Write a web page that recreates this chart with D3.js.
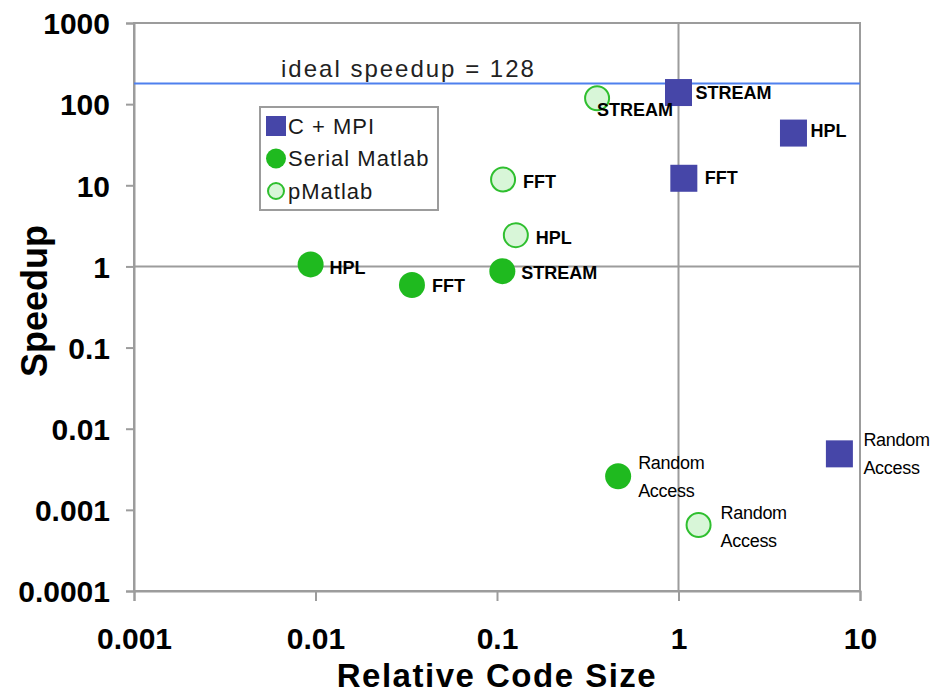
<!DOCTYPE html>
<html>
<head>
<meta charset="utf-8">
<script src="https://cdn.jsdelivr.net/npm/d3@7"></script>
<style>
  body { margin: 0; background: #fff; }
  svg { display: block; font-family: "Liberation Sans", Arial, sans-serif; }
</style>
</head>
<body>
<div id="chart"></div>
<script>
// Data
var benchmarks = ["STREAM", "HPL", "FFT", "Random Access"];

var cmpiSize = [1.0, 4.3, 1.07, 7.7];
var cmpiSpeedup = [139, 44, 12.2, 0.0049];

var serialSize = [0.107, 0.0094, 0.034, 0.465];
var serialSpeedup = [0.875, 1.06, 0.59, 0.0026];

var pmatlabSize = [0.356, 0.127, 0.108, 1.29];
var pmatlabSpeedup = [118, 2.43, 11.8, 0.00065];

var xTicks = [0.001, 0.01, 0.1, 1, 10];
var xTickLabels = ["0.001", "0.01", "0.1", "1", "10"];
var yTicks = [0.0001, 0.001, 0.01, 0.1, 1, 10, 100, 1000];
var yTickLabels = ["0.0001", "0.001", "0.01", "0.1", "1", "10", "100", "1000"];

var idealValue = 180;
var idealLabel = "ideal speedup = 128";

var seriesNames = ["C + MPI", "Serial Matlab", "pMatlab"];

// label placement (offsets from the marker centre)
var labelOffsets = {
  "C + MPI": { "STREAM": [17, 0], "HPL": [17, -2], "FFT": [21, 0], "Random Access": [24, -14] },
  "Serial Matlab": { "STREAM": [19, 2], "HPL": [19, 4], "FFT": [20, 1], "Random Access": [20, -13] },
  "pMatlab": { "STREAM": [0, 12], "HPL": [20, 3], "FFT": [20, 3], "Random Access": [22, -12] }
};

var width = 935, height = 694;
var gray = "#9c9c9c";

var svg = d3.select("#chart").append("svg")
  .attr("width", width)
  .attr("height", height);

var x = d3.scaleLog().domain([0.001, 10]).range([134, 860]);
var y = d3.scaleLog().domain([0.0001, 1000]).range([591, 23]);

// frame
svg.append("rect")
  .attr("x", x(0.001)).attr("y", y(1000))
  .attr("width", x(10) - x(0.001))
  .attr("height", y(0.0001) - y(1000))
  .attr("fill", "none")
  .attr("stroke", gray)
  .attr("stroke-width", 2);

// cross lines at 1
svg.append("line")
  .attr("x1", x(0.001)).attr("x2", x(10))
  .attr("y1", y(1)).attr("y2", y(1))
  .attr("stroke", gray).attr("stroke-width", 2);
svg.append("line")
  .attr("x1", x(1)).attr("x2", x(1))
  .attr("y1", y(1000)).attr("y2", y(0.0001))
  .attr("stroke", gray).attr("stroke-width", 2);

// axes
var yAxis = d3.axisLeft(y)
  .tickValues(yTicks)
  .tickSize(8)
  .tickPadding(16)
  .tickFormat(function(d, i) { return yTickLabels[i]; });

var xAxis = d3.axisBottom(x)
  .tickValues(xTicks)
  .tickSize(10)
  .tickPadding(27)
  .tickFormat(function(d, i) { return xTickLabels[i]; });

var gy = svg.append("g")
  .attr("transform", `translate(${x(0.001)},0)`)
  .call(yAxis);
var gx = svg.append("g")
  .attr("transform", `translate(0,${y(0.0001)})`)
  .call(xAxis);

[gx, gy].forEach(function(g) {
  g.select(".domain").attr("stroke", gray).attr("stroke-width", 2);
  g.selectAll(".tick line").attr("stroke", gray).attr("stroke-width", 2);
  g.selectAll(".tick text")
    .attr("fill", "#000")
    .style("font-size", "30px")
    .style("font-weight", "bold")
    .style("font-family", "'Liberation Sans', Arial, sans-serif");
});
gy.selectAll(".tick text").attr("dy", "0.36em");

// axis titles
svg.append("text")
  .attr("x", (x(0.001) + x(10)) / 2)
  .attr("y", 686.5)
  .attr("text-anchor", "middle")
  .style("font-size", "33px")
  .style("letter-spacing", "1.5px")
  .style("font-weight", "bold")
  .text("Relative Code Size");

svg.append("text")
  .attr("transform", "translate(47," + 301 + ") rotate(-90)")
  .attr("text-anchor", "middle")
  .style("font-size", "36px")
  .style("font-weight", "bold")
  .text("Speedup");

// ideal speedup line
svg.append("line")
  .attr("x1", x(0.001)).attr("x2", x(10))
  .attr("y1", y(idealValue)).attr("y2", y(idealValue))
  .attr("stroke", "#4f80ee").attr("stroke-width", 2);

svg.append("text")
  .attr("x", 281)
  .attr("y", y(idealValue) - 6)
  .attr("fill", "#222")
  .style("font-size", "24px")
  .style("letter-spacing", "2px")
  .text(idealLabel);

// markers
function drawMarker(g, name, cx, cy, size) {
  if (name === "C + MPI") {
    g.append("rect")
      .attr("x", cx - size / 2).attr("y", cy - size / 2)
      .attr("width", size).attr("height", size)
      .attr("fill", "#4646a8");
  } else if (name === "Serial Matlab") {
    g.append("circle")
      .attr("cx", cx).attr("cy", cy).attr("r", size / 2)
      .attr("fill", "#1fba1f");
  } else {
    g.append("circle")
      .attr("cx", cx).attr("cy", cy).attr("r", size / 2 - 1)
      .attr("fill", "#d8f6d8")
      .attr("stroke", "#2fbf2f")
      .attr("stroke-width", 2);
  }
}

var seriesData = [
  { name: "C + MPI", sizes: cmpiSize, speedups: cmpiSpeedup },
  { name: "Serial Matlab", sizes: serialSize, speedups: serialSpeedup },
  { name: "pMatlab", sizes: pmatlabSize, speedups: pmatlabSpeedup }
];

var marks = svg.append("g");
var labels = svg.append("g");

seriesData.forEach(function(s) {
  benchmarks.forEach(function(b, i) {
    var cx = x(s.sizes[i]), cy = y(s.speedups[i]);
    drawMarker(marks, s.name, cx, cy, s.name === "C + MPI" ? 27 : 26);

    var off = labelOffsets[s.name][b];
    if (b === "Random Access") {
      var t = labels.append("text")
        .attr("x", cx + off[0])
        .attr("y", cy + off[1])
        .attr("dominant-baseline", "central")
        .attr("fill", "#000")
        .style("font-size", "18px")
        .style("letter-spacing", "-0.3px");
      t.append("tspan").attr("x", cx + off[0]).text("Random");
      t.append("tspan").attr("x", cx + off[0]).attr("dy", 28).text("Access");
    } else {
      labels.append("text")
        .attr("x", cx + off[0])
        .attr("y", cy + off[1])
        .attr("dominant-baseline", "central")
        .attr("fill", "#000")
        .style("font-size", "18px")
        .style("font-weight", "bold")
        .text(b);
    }
  });
});

// legend
var legend = svg.append("g");
legend.append("rect")
  .attr("x", 260).attr("y", 107)
  .attr("width", 178).attr("height", 103)
  .attr("fill", "#fff")
  .attr("stroke", gray)
  .attr("stroke-width", 2);

var legendY = d3.scalePoint().domain(seriesNames).range([126, 191]);

seriesNames.forEach(function(n) {
  var ly = legendY(n);
  drawMarker(legend, n, 276, ly, n === "C + MPI" ? 20 : (n === "pMatlab" ? 18 : 20));
  legend.append("text")
    .attr("x", 288)
    .attr("y", ly)
    .attr("dominant-baseline", "central")
    .attr("fill", "#1a1a1a")
    .style("font-size", "22px")
    .style("letter-spacing", "1px")
    .text(n);
});
</script>
</body>
</html>
